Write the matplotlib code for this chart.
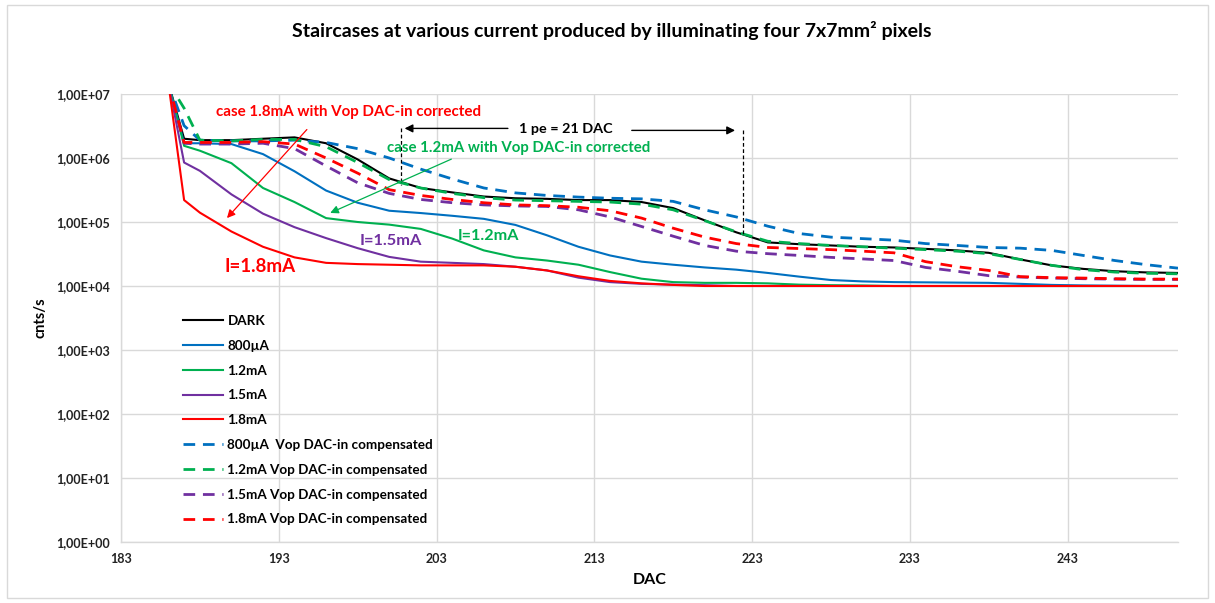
import numpy as np
import matplotlib
matplotlib.use("Agg")
import matplotlib.pyplot as plt
from matplotlib.ticker import FixedLocator, FuncFormatter
from matplotlib.patches import Rectangle

plt.rcParams['font.family'] = ['Lato', 'DejaVu Sans']
plt.rcParams['font.weight'] = 'bold'

# DAC threshold scan points
dac = [186, 187, 188, 190, 192, 194, 196, 198, 200, 202, 204, 206, 208, 210, 212, 214, 216,
       218, 220, 222, 224, 226, 228, 230, 232, 234, 236, 238, 240, 242, 244, 246, 248, 250]

# count rates (cnts/s)
dark = [1.5e7, 2.0e6, 1.9e6, 1.9e6, 2.0e6, 2.1e6, 1.7e6, 9.5e5, 4.8e5, 3.4e5, 2.9e5, 2.5e5,
        2.35e5, 2.3e5, 2.2e5, 2.2e5, 2.05e5, 1.65e5, 1.06e5, 6.9e4, 4.8e4, 4.5e4, 4.3e4, 4.1e4,
        4.0e4, 3.8e4, 3.6e4, 3.3e4, 2.6e4, 2.1e4, 1.85e4, 1.7e4, 1.63e4, 1.6e4]
i800 = [1.5e7, 1.7e6, 1.7e6, 1.65e6, 1.15e6, 6.2e5, 3.1e5, 2.0e5, 1.5e5, 1.38e5, 1.25e5, 1.12e5,
        9.0e4, 6.2e4, 4.1e4, 3.0e4, 2.4e4, 2.15e4, 1.95e4, 1.8e4, 1.6e4, 1.4e4, 1.24e4, 1.18e4,
        1.15e4, 1.14e4, 1.13e4, 1.12e4, 1.08e4, 1.04e4, 1.02e4, 1.01e4, 1.0e4, 1.0e4]
i1200 = [1.5e7, 1.55e6, 1.3e6, 8.3e5, 3.4e5, 2.05e5, 1.15e5, 1.0e5, 9.1e4, 7.8e4, 5.5e4, 3.6e4,
         2.8e4, 2.5e4, 2.15e4, 1.65e4, 1.3e4, 1.15e4, 1.12e4, 1.12e4, 1.1e4, 1.05e4, 1.03e4,
         1.02e4, 1.0e4, 1.0e4, 1.0e4, 1.0e4, 1.0e4, 1.0e4, 1.0e4, 1.0e4, 1.0e4, 1.0e4]
i1500 = [1.5e7, 8.5e5, 6.3e5, 2.7e5, 1.35e5, 8.3e4, 5.6e4, 3.9e4, 2.85e4, 2.4e4, 2.3e4, 2.2e4,
         2.0e4, 1.75e4, 1.35e4, 1.15e4, 1.08e4, 1.05e4, 1.03e4, 1.0e4, 1.0e4, 1.0e4, 1.0e4,
         1.0e4, 1.0e4, 1.0e4, 1.0e4, 1.0e4, 1.0e4, 1.0e4, 1.0e4, 1.0e4, 1.0e4, 1.0e4]
i1800 = [1.5e7, 2.2e5, 1.4e5, 7.1e4, 4.1e4, 2.8e4, 2.3e4, 2.2e4, 2.15e4, 2.1e4, 2.1e4, 2.1e4,
         2.0e4, 1.75e4, 1.42e4, 1.2e4, 1.1e4, 1.04e4, 1.0e4, 1.0e4, 1.0e4, 1.0e4, 1.0e4,
         1.0e4, 1.0e4, 1.0e4, 1.0e4, 1.0e4, 1.0e4, 1.0e4, 1.0e4, 1.0e4, 1.0e4, 1.0e4]
i800c = [1.5e7, 3.2e6, 1.9e6, 1.85e6, 1.85e6, 1.9e6, 1.75e6, 1.4e6, 1.0e6, 6.7e5, 4.7e5, 3.4e5,
         2.85e5, 2.6e5, 2.45e5, 2.35e5, 2.3e5, 2.1e5, 1.55e5, 1.2e5, 8.6e4, 6.6e4, 5.8e4, 5.5e4,
         5.2e4, 4.6e4, 4.3e4, 4.0e4, 3.9e4, 3.6e4, 3.0e4, 2.5e4, 2.15e4, 1.9e4]
i1200c = [1.5e7, 6.0e6, 1.9e6, 1.85e6, 1.95e6, 1.95e6, 1.5e6, 8.5e5, 4.6e5, 3.4e5, 2.8e5, 2.4e5,
          2.2e5, 2.15e5, 2.1e5, 2.05e5, 1.9e5, 1.55e5, 1.05e5, 7.0e4, 5.0e4, 4.6e4, 4.3e4, 4.1e4,
          3.9e4, 3.7e4, 3.5e4, 3.2e4, 2.6e4, 2.1e4, 1.8e4, 1.65e4, 1.58e4, 1.55e4]
i1500c = [1.5e7, 1.7e6, 1.65e6, 1.65e6, 1.7e6, 1.4e6, 7.5e5, 4.1e5, 2.8e5, 2.25e5, 2.0e5, 1.85e5,
          1.78e5, 1.75e5, 1.55e5, 1.2e5, 8.5e4, 6.0e4, 4.3e4, 3.5e4, 3.2e4, 3.0e4, 2.8e4, 2.65e4,
          2.5e4, 1.95e4, 1.7e4, 1.45e4, 1.38e4, 1.33e4, 1.3e4, 1.28e4, 1.27e4, 1.27e4]
i1800c = [1.5e7, 1.75e6, 1.75e6, 1.75e6, 1.8e6, 1.65e6, 1.0e6, 5.8e5, 3.2e5, 2.6e5, 2.25e5, 2.0e5,
          1.85e5, 1.8e5, 1.7e5, 1.5e5, 1.15e5, 8.0e4, 5.8e4, 4.6e4, 4.0e4, 3.85e4, 3.7e4, 3.5e4,
          3.3e4, 2.4e4, 2.0e4, 1.75e4, 1.4e4, 1.35e4, 1.33e4, 1.3e4, 1.28e4, 1.28e4]

labels = ["DARK", "800\u00b5A", "1.2mA", "1.5mA", "1.8mA",
          "800\u00b5A  Vop DAC-in compensated", "1.2mA Vop DAC-in compensated",
          "1.5mA Vop DAC-in compensated", "1.8mA Vop DAC-in compensated"]
series = [dark, i800, i1200, i1500, i1800, i800c, i1200c, i1500c, i1800c]
colors = ["#000000", "#0070C0", "#00B050", "#7030A0", "#FF0000",
          "#0070C0", "#00B050", "#7030A0", "#FF0000"]

W, H = 1215, 603
fig = plt.figure(figsize=(W / 100, H / 100), dpi=100)
ax = fig.add_axes([121 / W, 1 - 542 / H, (1178 - 121) / W, (542 - 94) / H])

for k, (ys, lab, c) in enumerate(zip(series, labels, colors)):
    if k < 5:
        ax.plot(dac, ys, color=c, lw=1.5, label=lab)
    else:
        ax.plot(dac, ys, color=c, lw=2.0, linestyle=(0, (4.2, 2.8)), label=lab)

ax.set_yscale('log')
ax.set_xlim(183, 250)
ax.set_ylim(1, 1e7)
ax.xaxis.set_major_locator(FixedLocator(np.arange(183, 250, 10)))
ax.yaxis.set_major_locator(FixedLocator([10.0 ** p for p in range(0, 8)]))
ax.yaxis.set_minor_locator(FixedLocator([]))


def sci_comma(v, pos):
    e = int(round(np.log10(v)))
    return "1,00E{:+03d}".format(e)


ax.yaxis.set_major_formatter(FuncFormatter(sci_comma))
ax.grid(True, color='#d9d9d9', lw=1)
ax.set_axisbelow(True)
for s in ['top', 'right']:
    ax.spines[s].set_visible(False)
for s in ['left', 'bottom']:
    ax.spines[s].set_color('#d9d9d9')
    ax.spines[s].set_linewidth(1)
ax.tick_params(length=0, labelsize=9, pad=8, colors='#222222')
for t in ax.get_xticklabels() + ax.get_yticklabels():
    t.set_fontweight('bold')

ax.set_xlabel("DAC", fontsize=11.5, fontweight='bold', labelpad=6)
ax.set_ylabel("cnts/s", fontsize=10.5, fontweight='bold', labelpad=6)
fig.suptitle("Staircases at various current produced by illuminating four 7x7mm\u00b2 pixels",
             x=612 / W, y=1 - 21 / H, fontsize=14, fontweight='bold')

ax.legend(loc='upper left', bbox_to_anchor=(183 / W, 1 - 315 / H), bbox_transform=fig.transFigure,
          frameon=False, handlelength=3.0, handletextpad=0.3, labelspacing=0.95,
          borderpad=0, borderaxespad=0, prop={'weight': 'bold', 'size': 9.7})

# annotations
ax.annotate("", xy=(189.6, 1.07e5), xytext=(194.9, 3.0e6),
            arrowprops=dict(arrowstyle='-|>', color='#FF0000', lw=0.9, mutation_scale=12))
ax.text(197.4, 5.2e6, "case 1.8mA with Vop DAC-in corrected", color='#FF0000',
        fontsize=10.9, fontweight='bold', ha='center', va='center')
ax.annotate("", xy=(196.1, 1.33e5), xytext=(204.1, 1.0e6),
            arrowprops=dict(arrowstyle='-|>', color='#00B050', lw=0.9, mutation_scale=12))
ax.text(208.2, 1.43e6, "case 1.2mA with Vop DAC-in corrected", color='#00B050',
        fontsize=10.8, fontweight='bold', ha='center', va='center')

ax.text(211.2, 2.84e6, "1 pe = 21 DAC", color='#000000', fontsize=10.4, fontweight='bold',
        ha='center', va='center')
ax.annotate("", xy=(200.8, 2.9e6), xytext=(207.7, 2.9e6),
            arrowprops=dict(arrowstyle='-|>', color='#000000', lw=1.0, mutation_scale=12))
ax.annotate("", xy=(222.1, 2.7e6), xytext=(215.2, 2.7e6),
            arrowprops=dict(arrowstyle='-|>', color='#000000', lw=1.0, mutation_scale=12))
ax.plot([200.75, 200.75], [2.9e6, 3.8e5], color='#000000', lw=0.9, linestyle=(0, (3, 2)))
ax.plot([222.45, 222.45], [2.7e6, 6.0e4], color='#000000', lw=0.9, linestyle=(0, (3, 2)))

ax.text(191.8, 2.0e4, "I=1.8mA", color='#FF0000', fontsize=13.5, fontweight='bold',
        ha='center', va='center')
ax.text(200.1, 5.0e4, "I=1.5mA", color='#7030A0', fontsize=11.8, fontweight='bold',
        ha='center', va='center')
ax.text(206.3, 6.0e4, "I=1.2mA", color='#00B050', fontsize=11.6, fontweight='bold',
        ha='center', va='center')

fig.add_artist(Rectangle((7 / W, 1 - 598 / H), (1208 - 7) / W, (598 - 5) / H,
                         transform=fig.transFigure, fill=False, edgecolor='#d9d9d9', lw=1))

fig.savefig("out.png", dpi=100, facecolor='white')
